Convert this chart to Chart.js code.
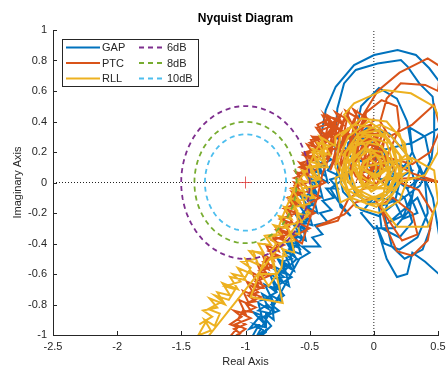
<!DOCTYPE html>
<html>
<head>
<meta charset="utf-8">
<title>Nyquist Diagram</title>
<script src="https://cdn.jsdelivr.net/npm/chart.js@4.4.0/dist/chart.umd.min.js"></script>
<style>
  html, body { margin: 0; padding: 0; background: #fff; }
  canvas { display: block; }
</style>
</head>
<body>
<canvas id="nyquist" width="447" height="369"></canvas>
<script>
"use strict";

const COLORS = {
  GAP: "#0072bd",
  PTC: "#d95319",
  RLL: "#edb120",
  "6dB": "#7e2f8e",
  "8dB": "#77ac30",
  "10dB": "#4dbeee",
  axis: "#262626",
  critical: "rgba(226, 60, 60, 0.8)",
};

const FONT = "'Liberation Sans', Arial, Helvetica, sans-serif";

const REAL_TICKS = [-2.5, -2, -1.5, -1, -0.5, 0, 0.5];
const IMAG_TICKS = [-1, -0.8, -0.6, -0.4, -0.2, 0, 0.2, 0.4, 0.6, 0.8, 1];

// gain margin circles around -1, in dB
const MARGIN_DB = [6, 8, 10];
const CRITICAL_POINT = [-1, 0];

// frequency responses, [real, imag]
const GAP = [
  [-0.96, -1.03], [-0.9, -0.94], [-0.97, -0.96], [-0.88, -0.87], [-0.94, -0.85], [-0.86, -0.92],
  [-0.9, -0.79], [-0.82, -0.83], [-0.87, -0.73], [-0.79, -0.77], [-0.85, -0.67], [-0.76, -0.71],
  [-0.81, -0.6], [-0.71, -0.65], [-0.78, -0.55], [-0.69, -0.59], [-0.75, -0.5], [-0.65, -0.55],
  [-0.71, -0.44], [-0.61, -0.49], [-0.69, -0.38], [-0.58, -0.41], [-0.65, -0.33], [-0.55, -0.37],
  [-0.63, -0.27], [-0.53, -0.31], [-0.61, -0.21], [-0.51, -0.24], [-0.58, -0.15], [-0.49, -0.18],
  [-0.57, -0.09], [-0.47, -0.12], [-0.53, -0.03], [-0.45, -0.06], [-0.51, 0.03], [-0.42, 0.0],
  [-0.48, 0.09], [-0.39, 0.05], [-0.46, 0.15], [-0.36, 0.1], [-0.42, 0.2], [-0.33, 0.15],
  [-0.4, 0.12], [-0.5, 0.02], [-0.44, -0.02], [-0.54, -0.1], [-0.48, -0.14], [-0.58, -0.22],
  [-0.52, -0.25], [-0.62, -0.34], [-0.56, -0.37], [-0.66, -0.46], [-0.6, -0.5], [-0.7, -0.58],
  [-0.64, -0.62], [-0.76, -0.68], [-0.7, -0.74], [-0.8, -0.8], [-0.74, -0.84], [-0.86, -0.88],
  [-0.8, -0.94], [-0.9, -1.02], [-0.84, -0.98], [-0.84, -0.86], [-0.78, -0.9], [-0.8, -0.74],
  [-0.72, -0.78], [-0.74, -0.64], [-0.66, -0.68], [-0.7, -0.54], [-0.62, -0.58], [-0.66, -0.44],
  [-0.57, -0.47], [-0.61, -0.35], [-0.53, -0.38], [-0.56, -0.26], [-0.48, -0.28], [-0.52, -0.16],
  [-0.44, -0.2], [-0.48, -0.06], [-0.4, -0.1], [-0.44, 0.04], [-0.36, 0.0], [-0.4, 0.14],
  [-0.44, 0.02], [-0.5, -0.08], [-0.47, -0.15], [-0.54, -0.14], [-0.5, -0.2], [-0.58, -0.22],
  [-0.53, -0.27], [-0.6, -0.28], [-0.56, -0.32], [-0.63, -0.36], [-0.58, -0.43], [-0.66, -0.4],
  [-0.62, -0.45], [-0.7, -0.47], [-0.64, -0.5], [-0.72, -0.52], [-0.68, -0.6], [-0.76, -0.58],
  [-0.7, -0.62], [-0.79, -0.63], [-0.74, -0.7], [-0.82, -0.68], [-0.76, -0.72], [-0.87, -0.77],
  [-0.8, -0.76], [-0.78, -0.84], [-0.83, -0.8], [-0.9, -0.84], [-0.8, -0.86], [-0.88, -0.89],
  [-0.84, -0.95], [-0.93, -0.93], [-0.86, -0.97], [-0.92, -1.02],
  [-0.58, -0.5], [-0.5, -0.46], [-0.56, -0.42], [-0.42, -0.42], [-0.48, -0.36], [-0.4, -0.34],
  [-0.46, -0.28], [-0.36, -0.26], [-0.42, -0.2], [-0.33, -0.18], [-0.4, -0.12], [-0.31, -0.1],
  [-0.37, -0.04], [-0.28, -0.04], [-0.34, 0.02], [-0.26, 0.04], [-0.36, 0.08], [-0.3, 0.16],
  [-0.3, 0.24], [-0.18, 0.3], [-0.04, 0.28], [0.08, 0.2], [0.13, 0.06], [0.1, -0.08],
  [-0.02, -0.14], [-0.14, -0.08], [-0.2, 0.06], [-0.14, 0.18], [0.0, 0.22], [0.12, 0.14],
  [0.2, 0.0], [0.16, -0.14], [0.04, -0.22], [-0.1, -0.18], [-0.24, -0.06], [-0.28, 0.1],
  [-0.3, -0.02], [-0.26, -0.16], [-0.18, -0.22], [-0.28, -0.12], [-0.34, -0.04], [-0.24, 0.02],
  [-0.2, 0.26], [-0.05, 0.36], [0.12, 0.32], [0.26, 0.18], [0.32, 0.0], [0.28, -0.18],
  [0.16, -0.3], [0.0, -0.3], [-0.1, -0.2], [0.0, -0.1], [0.2, -0.12], [0.36, -0.02],
  [0.44, 0.14], [0.4, 0.3], [0.28, 0.36], [0.3, 0.2], [0.4, 0.0], [0.42, -0.2],
  [0.34, -0.36], [0.2, -0.44], [0.08, -0.4], [0.02, -0.28], [0.1, -0.5], [0.18, -0.62],
  [0.26, -0.6], [0.3, -0.46], [0.4, -0.52], [0.56, -0.64], [0.5, -0.3], [0.46, -0.1],
  [0.36, 0.1], [0.3, -0.08], [0.22, -0.24], [0.34, -0.2], [0.26, -0.04], [0.14, 0.04],
  [0.1, -0.02], [0.24, -0.1], [0.3, -0.26], [0.2, -0.36], [0.06, -0.3], [0.04, -0.16],
  [0.16, -0.12], [0.22, -0.22], [0.12, -0.26], [0.34, -0.1], [0.44, -0.3], [0.38, -0.44],
  [0.24, -0.5], [0.14, -0.42], [0.08, -0.2], [0.18, 0.02],
  [0.3, 0.08], [0.1, 0.16], [-0.1, 0.14], [-0.25, 0.2], [-0.41, 0.31], [-0.375, 0.475],
  [-0.297, 0.628], [-0.154, 0.77], [0.002, 0.836], [0.185, 0.869], [0.328, 0.836], [0.432, 0.749],
  [0.52, 0.65], [0.56, 0.5], [0.52, 0.36], [0.3, 0.26], [0.1, 0.22], [-0.2, 0.2],
  [-0.3, 0.31], [-0.284, 0.486], [-0.232, 0.65], [-0.141, 0.738], [0.029, 0.78], [0.211, 0.803],
  [0.263, 0.76], [0.354, 0.65], [0.458, 0.563], [0.471, 0.464], [0.47, 0.31], [0.45, 0.16],
  [0.38, 0.04], [0.26, -0.04], [0.1, 0.1], [-0.15, 0.28], [-0.1, 0.5], [0.04, 0.62],
  [0.18, 0.55], [0.26, 0.4], [0.3, 0.2], [0.2, 0.05], [0.05, 0.02], [-0.05, 0.12],
  [0.06, 0.1], [0.0, 0.04], [-0.08, 0.08],
];

const PTC = [
  [-1.13, -1.02], [-1.06, -0.95], [-1.12, -0.93], [-1.03, -0.88], [-1.09, -0.84], [-1.0, -0.86],
  [-1.05, -0.77], [-0.97, -0.8], [-1.02, -0.71], [-0.93, -0.74], [-0.99, -0.65], [-0.9, -0.68],
  [-0.95, -0.59], [-0.86, -0.63], [-0.91, -0.53], [-0.82, -0.57], [-0.87, -0.47], [-0.78, -0.51],
  [-0.84, -0.41], [-0.74, -0.45], [-0.79, -0.35], [-0.7, -0.38], [-0.76, -0.3], [-0.66, -0.33],
  [-0.72, -0.24], [-0.63, -0.27], [-0.69, -0.18], [-0.6, -0.2], [-0.66, -0.12], [-0.57, -0.14],
  [-0.64, -0.06], [-0.55, -0.08], [-0.62, 0.0], [-0.53, -0.02], [-0.61, 0.07], [-0.5, 0.04],
  [-0.58, 0.13], [-0.48, 0.1], [-0.55, 0.19], [-0.45, 0.16], [-0.52, 0.25], [-0.42, 0.22],
  [-0.48, 0.3], [-0.38, 0.27], [-0.44, 0.35], [-0.34, 0.3],
  [-0.3, 0.38], [-0.42, 0.34], [-0.36, 0.3], [-0.5, 0.26], [-0.42, 0.22], [-0.55, 0.18],
  [-0.46, 0.15], [-0.58, 0.1], [-0.49, 0.07], [-0.62, 0.03], [-0.52, 0.0], [-0.64, -0.04],
  [-0.55, -0.06], [-0.67, -0.1], [-0.58, -0.13], [-0.7, -0.17], [-0.6, -0.2], [-0.73, -0.24],
  [-0.64, -0.27], [-0.76, -0.31], [-0.67, -0.34], [-0.79, -0.38], [-0.7, -0.41], [-0.82, -0.45],
  [-0.74, -0.48], [-0.86, -0.52], [-0.78, -0.55], [-0.89, -0.58], [-0.81, -0.61], [-0.92, -0.65],
  [-0.85, -0.68], [-0.96, -0.72], [-0.88, -0.75], [-0.99, -0.79], [-0.92, -0.82], [-1.03, -0.86],
  [-0.96, -0.89], [-1.08, -0.93], [-1.0, -0.96], [-1.1, -1.02],
  [-1.04, -0.99], [-1.09, -0.96], [-1.0, -0.93], [-1.06, -0.9], [-1.02, -0.84], [-0.95, -0.85],
  [-1.0, -0.79], [-0.92, -0.78], [-0.98, -0.74], [-0.9, -0.72], [-0.95, -0.68], [-0.86, -0.69],
  [-0.9, -0.62], [-0.83, -0.6], [-0.88, -0.55], [-0.8, -0.56], [-0.84, -0.5], [-0.76, -0.48],
  [-0.81, -0.44], [-0.73, -0.42], [-0.78, -0.37], [-0.7, -0.36], [-0.74, -0.3], [-0.66, -0.29],
  [-0.71, -0.24], [-0.64, -0.22], [-0.68, -0.16], [-0.6, -0.15], [-0.65, -0.1], [-0.58, -0.08],
  [-0.62, -0.02], [-0.55, 0.0], [-0.59, 0.06], [-0.52, 0.08], [-0.56, 0.13], [-0.48, 0.15],
  [-0.53, 0.2], [-0.45, 0.22], [-0.49, 0.28], [-0.4, 0.3], [-0.45, 0.36], [-0.36, 0.38],
  [-0.4, 0.44], [-0.3, 0.42],
  [-0.42, 0.18], [-0.3, 0.4], [-0.36, 0.16], [-0.22, 0.44], [-0.34, 0.08], [-0.2, 0.36],
  [-0.28, 0.06], [-0.12, 0.4], [-0.24, 0.12], [-0.06, 0.44], [-0.18, 0.08], [0.0, 0.36],
  [-0.12, 0.04], [0.06, 0.3], [-0.06, 0.0], [0.1, 0.16], [0.02, -0.02], [-0.16, 0.26],
  [-0.38, 0.44], [-0.28, 0.3], [-0.46, 0.3], [-0.4, 0.24], [-0.5, 0.16], [-0.34, 0.18],
  [-0.48, 0.06], [-0.38, 0.0], [-0.52, -0.06], [-0.42, -0.1], [-0.56, -0.16], [-0.46, -0.2],
  [-0.6, -0.26], [-0.5, -0.3], [-0.64, -0.36], [-0.56, -0.4], [-0.5, -0.24], [-0.44, -0.1],
  [-0.4, 0.06], [-0.32, 0.22],
  [-0.44, 0.38], [-0.34, 0.42], [-0.38, 0.3], [-0.26, 0.44], [-0.32, 0.26], [-0.2, 0.45],
  [-0.26, 0.22], [-0.14, 0.44], [-0.2, 0.18], [-0.08, 0.42], [-0.14, 0.14], [-0.02, 0.38],
  [-0.08, 0.1], [0.04, 0.34], [-0.02, 0.06], [0.08, 0.28], [0.04, 0.02], [0.1, 0.2],
  [-0.4, 0.4], [-0.3, 0.34], [-0.36, 0.44], [-0.24, 0.38], [-0.3, 0.46], [-0.18, 0.4],
  [-0.22, 0.47], [-0.12, 0.42], [-0.16, 0.48], [-0.05, 0.42], [-0.1, 0.36], [-0.02, 0.38],
  [-0.08, 0.3], [0.02, 0.32], [-0.05, 0.24], [0.04, 0.26], [-0.04, 0.18], [0.06, 0.2],
  [-0.06, 0.12], [0.04, 0.1], [-0.1, 0.06], [-0.02, 0.0], [-0.14, 0.04], [-0.2, 0.14],
  [-0.3, 0.12], [-0.26, 0.24], [-0.36, 0.2], [-0.32, 0.32], [-0.22, 0.3], [-0.28, 0.2],
  [-0.16, 0.22], [-0.2, 0.32], [-0.1, 0.28], [-0.14, 0.18], [0.0, 0.1], [0.12, 0.2],
  [0.2, 0.36], [0.18, 0.5], [0.06, 0.54], [-0.06, 0.46], [-0.1, 0.3], [-0.15, 0.35],
  [0.03, 0.6], [0.2, 0.72], [0.42, 0.814], [0.52, 0.76], [0.5, 0.6], [0.4, 0.64],
  [0.21, 0.65], [0.1, 0.55], [0.05, 0.4], [0.12, 0.3], [0.3, 0.38], [0.47, 0.51],
  [0.52, 0.35], [0.44, 0.2], [0.3, 0.12], [0.12, 0.16], [0.2, 0.0], [0.35, -0.05],
  [0.46, -0.2], [0.42, -0.38], [0.3, -0.48], [0.18, -0.45], [0.1, -0.3], [0.05, -0.15],
  [0.15, -0.1], [0.3, -0.2], [0.34, -0.34], [0.22, -0.38], [0.0, -0.1], [-0.14, -0.13],
  [-0.23, -0.21], [-0.45, -0.29], [-0.28, -0.25], [-0.2, -0.11], [-0.1, -0.05], [0.1, 0.02],
  [0.3, 0.03], [0.52, 0.0], [0.3, 0.06], [0.0, 0.2], [-0.1, 0.1], [0.0, 0.05],
];

const RLL = [
  [-1.38, -1.02], [-1.3, -0.9], [-1.36, -0.93], [-1.26, -0.88], [-1.33, -0.84], [-1.22, -0.82],
  [-1.28, -0.76], [-1.16, -0.8], [-1.22, -0.72], [-1.12, -0.74], [-1.18, -0.66], [-1.06, -0.7],
  [-1.12, -0.62], [-1.0, -0.64], [-1.06, -0.56], [-0.95, -0.6], [-1.0, -0.5], [-0.9, -0.54],
  [-0.94, -0.45], [-0.84, -0.48], [-0.96, -0.75], [-0.71, -0.79], [-0.8, -0.45], [-0.76, -0.4],
  [-0.82, -0.36], [-0.72, -0.34], [-0.78, -0.28], [-0.68, -0.3], [-0.74, -0.22], [-0.64, -0.24],
  [-0.7, -0.16], [-0.6, -0.18], [-0.66, -0.1], [-0.58, -0.12], [-0.64, -0.04], [-0.54, -0.06],
  [-0.6, 0.02], [-0.5, 0.0], [-0.56, 0.08], [-0.46, 0.06], [-0.52, 0.14], [-0.42, 0.12],
  [-0.48, 0.2], [-0.38, 0.18], [-0.44, 0.26], [-0.34, 0.24],
  [-0.42, 0.2], [-0.36, 0.1], [-0.5, 0.1], [-0.44, -0.02], [-0.56, -0.04], [-0.5, -0.14],
  [-0.62, -0.16], [-0.56, -0.26], [-0.68, -0.28], [-0.62, -0.38], [-0.74, -0.4], [-0.68, -0.48],
  [-0.8, -0.5], [-0.76, -0.6], [-0.88, -0.6], [-0.82, -0.68], [-0.72, -0.56], [-0.7, -0.44],
  [-0.62, -0.46], [-0.66, -0.32], [-0.58, -0.34], [-0.6, -0.2], [-0.52, -0.22], [-0.56, -0.08],
  [-0.48, -0.1], [-0.5, 0.04], [-0.42, 0.02], [-0.46, 0.16], [-0.38, 0.14], [-0.4, 0.28],
  [-0.46, 0.2], [-0.52, 0.08], [-0.6, 0.0], [-0.66, -0.12], [-0.72, -0.24], [-0.76, -0.34],
  [-0.85, -0.35], [-0.8, -0.41], [-0.9, -0.4], [-0.86, -0.46], [-0.97, -0.45], [-0.92, -0.5],
  [-1.03, -0.52], [-0.96, -0.56], [-1.0, -0.62], [-1.1, -0.6], [-1.04, -0.65], [-1.16, -0.68],
  [-1.08, -0.7], [-1.13, -0.77], [-1.24, -0.74], [-1.18, -0.78], [-1.29, -0.83], [-1.2, -0.86],
  [-1.24, -0.94], [-1.32, -0.9], [-1.27, -0.97], [-1.36, -1.0], [-1.3, -1.02],
  [-0.62, -0.3], [-0.5, -0.2], [-0.6, -0.12], [-0.46, -0.1], [-0.56, 0.0], [-0.42, 0.02],
  [-0.52, 0.1], [-0.38, 0.12], [-0.48, 0.22], [-0.34, 0.18], [-0.42, 0.3], [-0.3, 0.24],
  [-0.3, 0.3], [-0.15, 0.38], [0.0, 0.36], [0.12, 0.28], [0.18, 0.12], [0.14, -0.04],
  [0.0, -0.1], [-0.14, -0.04], [-0.2, 0.1], [-0.14, 0.24], [0.0, 0.28], [0.1, 0.2],
  [0.12, 0.06], [0.02, -0.02], [-0.1, 0.04], [-0.12, 0.16], [-0.02, 0.22], [0.06, 0.14],
  [0.04, 0.04], [-0.06, 0.08], [-0.04, 0.16], [0.02, 0.12], [0.0, 0.0], [-0.2, -0.05],
  [-0.3, 0.1], [-0.26, 0.3], [-0.1, 0.42], [0.1, 0.4], [0.24, 0.26], [0.28, 0.06],
  [0.2, -0.12], [0.04, -0.2], [-0.14, -0.16], [-0.26, 0.0], [-0.22, 0.2], [-0.08, 0.32],
  [0.08, 0.3], [0.2, 0.18], [0.22, 0.02], [0.1, -0.14], [-0.06, -0.14], [-0.18, -0.02],
  [-0.16, 0.14], [-0.04, 0.26], [0.06, 0.24], [0.14, 0.12], [0.1, 0.0], [-0.02, -0.06],
  [-0.1, 0.02], [-0.08, 0.14], [0.02, 0.18], [0.08, 0.08], [0.0, 0.02],
  [0.25, 0.18], [0.2, 0.32], [0.05, 0.38], [-0.12, 0.32], [-0.16, 0.14], [-0.08, -0.02],
  [0.1, -0.04], [0.24, 0.06], [0.12, 0.02], [0.08, 0.16], [-0.08, 0.22], [-0.22, 0.12],
  [-0.22, -0.04], [-0.06, -0.12], [0.1, -0.08], [0.16, 0.04], [0.3, 0.14], [0.14, 0.3],
  [-0.04, 0.4], [-0.2, 0.3], [-0.28, 0.14], [-0.18, -0.1], [0.02, -0.16], [0.16, -0.06],
  [-0.24, 0.18], [-0.12, 0.32], [0.04, 0.34], [0.16, 0.22], [0.2, 0.06], [0.1, -0.08],
  [-0.06, -0.1], [-0.2, 0.0], [-0.22, 0.14], [-0.1, 0.3], [0.08, 0.32], [0.22, 0.16],
  [0.18, -0.02], [0.04, -0.12], [-0.12, -0.08], [-0.24, 0.06], [-0.18, 0.22], [-0.04, 0.3],
  [0.1, 0.26], [0.16, 0.1], [0.08, -0.04], [-0.08, -0.04], [-0.16, 0.1], [-0.06, 0.22],
  [0.06, 0.2], [0.1, 0.1], [0.0, 0.04], [-0.1, 0.1], [-0.02, 0.18],
  [-0.232, 0.443], [-0.154, 0.519], [0.08, 0.607], [0.289, 0.585], [0.471, 0.497], [0.52, 0.4],
  [0.5, 0.2], [0.4, 0.05], [0.2, 0.0], [0.1, 0.05], [0.06, -0.16], [0.18, -0.29],
  [0.42, -0.29], [0.5, -0.12], [0.47, 0.08], [0.3, 0.16], [-0.1, 0.1], [-0.3, 0.03],
  [-0.26, -0.13], [-0.13, -0.08], [0.0, 0.05],
];

function toPoints(pairs) {
  return pairs.map(([x, y]) => ({ x, y }));
}

// circle of radius 1/Ms around the critical point, Ms taken from the dB value
function marginCircle(db) {
  const r = Math.pow(10, -db / 20);
  const pts = [];
  for (let k = 0; k <= 90; k++) {
    const a = (k / 90) * 2 * Math.PI;
    pts.push({ x: CRITICAL_POINT[0] + r * Math.cos(a), y: CRITICAL_POINT[1] + r * Math.sin(a) });
  }
  return pts;
}

function curve(label, pairs, order) {
  return {
    label,
    data: toPoints(pairs),
    showLine: true,
    borderColor: COLORS[label],
    backgroundColor: COLORS[label],
    borderWidth: 2,
    pointRadius: 0,
    order,
  };
}

const datasets = [
  {
    label: "axes",
    data: [{ x: REAL_TICKS[0], y: 0 }, { x: REAL_TICKS[REAL_TICKS.length - 1], y: 0 }],
    showLine: true, borderColor: "#222", borderWidth: 1, borderDash: [1, 2],
    pointRadius: 0, order: 10,
  },
  {
    label: "axes",
    data: [{ x: 0, y: IMAG_TICKS[0] }, { x: 0, y: IMAG_TICKS[IMAG_TICKS.length - 1] }],
    showLine: true, borderColor: "#222", borderWidth: 1, borderDash: [1, 2],
    pointRadius: 0, order: 10,
  },
  curve("GAP", GAP, 5),
  curve("PTC", PTC, 4),
  curve("RLL", RLL, 3),
  ...MARGIN_DB.map((db) => ({
    label: `${db}dB`,
    data: marginCircle(db),
    showLine: true,
    borderColor: COLORS[`${db}dB`],
    borderWidth: 1.8,
    borderDash: [5, 4],
    pointRadius: 0,
    order: 2,
  })),
  {
    label: "critical",
    data: [{ x: CRITICAL_POINT[0], y: CRITICAL_POINT[1] }],
    pointStyle: "cross",
    pointRadius: 6,
    borderColor: COLORS.critical,
    borderWidth: 1,
    order: 1,
  },
];

// title, axis labels, inward ticks and the two-column legend
const decorations = {
  id: "decorations",
  afterDraw(chart) {
    const { ctx, chartArea: area, scales } = chart;
    ctx.save();

    ctx.strokeStyle = COLORS.axis;
    ctx.lineWidth = 1;
    ctx.beginPath();
    REAL_TICKS.forEach((v) => {
      const px = Math.round(scales.x.getPixelForValue(v)) + 0.5;
      ctx.moveTo(px, area.bottom);
      ctx.lineTo(px, area.bottom - 4);
    });
    IMAG_TICKS.forEach((v) => {
      const py = Math.round(scales.y.getPixelForValue(v)) + 0.5;
      ctx.moveTo(area.left, py);
      ctx.lineTo(area.left + 4, py);
    });
    ctx.stroke();

    ctx.fillStyle = "#000";
    ctx.textAlign = "center";
    ctx.textBaseline = "middle";
    ctx.font = `bold 12px ${FONT}`;
    ctx.fillText("Nyquist Diagram", (area.left + area.right) / 2, 19);

    ctx.fillStyle = COLORS.axis;
    ctx.font = `11px ${FONT}`;
    ctx.fillText("Real Axis", (area.left + area.right) / 2, 362);
    ctx.translate(18, (area.top + area.bottom) / 2);
    ctx.rotate(-Math.PI / 2);
    ctx.fillText("Imaginary Axis", 0, 0);
    ctx.restore();

    // legend
    ctx.save();
    const box = { x: 62, y: 39, w: 136, h: 47 };
    ctx.fillStyle = "#fff";
    ctx.fillRect(box.x, box.y, box.w, box.h);
    ctx.strokeStyle = COLORS.axis;
    ctx.lineWidth = 1;
    ctx.strokeRect(box.x + 0.5, box.y + 0.5, box.w, box.h);

    const cols = [
      { names: ["GAP", "PTC", "RLL"], x0: 66, x1: 100, tx: 102, dash: [] },
      { names: MARGIN_DB.map((d) => `${d}dB`), x0: 139, x1: 165, tx: 167, dash: [5, 4] },
    ];
    ctx.font = `11px ${FONT}`;
    ctx.textAlign = "left";
    ctx.textBaseline = "middle";
    cols.forEach((col) => {
      col.names.forEach((name, i) => {
        const y = 47.5 + i * 15.5;
        ctx.strokeStyle = COLORS[name];
        ctx.lineWidth = 2;
        ctx.setLineDash(col.dash);
        ctx.beginPath();
        ctx.moveTo(col.x0, y);
        ctx.lineTo(col.x1, y);
        ctx.stroke();
        ctx.setLineDash([]);
        ctx.fillStyle = COLORS.axis;
        ctx.fillText(name, col.tx, y + 0.5);
      });
    });
    ctx.restore();
  },
};

const tickFont = { family: FONT, size: 11 };

new Chart(document.getElementById("nyquist"), {
  type: "scatter",
  data: { datasets },
  options: {
    responsive: false,
    animation: false,
    devicePixelRatio: 1,
    layout: { padding: { top: 30, right: 9, left: 0, bottom: 0 } },
    plugins: {
      legend: { display: false },
      tooltip: { enabled: false },
      title: { display: false },
    },
    scales: {
      x: {
        type: "linear",
        min: REAL_TICKS[0],
        max: REAL_TICKS[REAL_TICKS.length - 1],
        afterBuildTicks: (s) => { s.ticks = REAL_TICKS.map((value) => ({ value })); },
        afterFit: (s) => { s.height = 34; s.paddingRight = 0; s.paddingLeft = 0; },
        grid: { display: false, drawTicks: false },
        border: { display: true, color: COLORS.axis, width: 1 },
        ticks: { color: COLORS.axis, font: tickFont, padding: 5, maxRotation: 0, autoSkip: false,
          callback: (v) => String(v) },
      },
      y: {
        type: "linear",
        min: IMAG_TICKS[0],
        max: IMAG_TICKS[IMAG_TICKS.length - 1],
        afterBuildTicks: (s) => { s.ticks = IMAG_TICKS.map((value) => ({ value })); },
        afterFit: (s) => { s.width = 53; s.paddingTop = 0; s.paddingBottom = 0; },
        grid: { display: false, drawTicks: false },
        border: { display: true, color: COLORS.axis, width: 1 },
        ticks: { color: COLORS.axis, font: tickFont, padding: 6, autoSkip: false,
          callback: (v) => String(v) },
      },
    },
  },
  plugins: [decorations],
});
</script>
</body>
</html>
